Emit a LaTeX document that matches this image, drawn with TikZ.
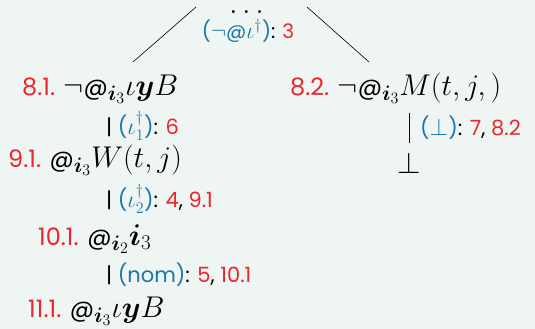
\RequirePackage{fix-cm}
\documentclass[tikz,border=0pt]{standalone}
\usepackage{amsmath}
\usepackage{fontspec}
\setmainfont{Poppins}
\usetikzlibrary{positioning}
\DeclareMathSizes{24}{30}{21}{16}
\DeclareMathSizes{21}{24}{16}{12}
\DeclareMathSizes{20}{23}{16}{12}
\definecolor{slidebg}{RGB}{238,245,242}
\definecolor{linered}{RGB}{235,38,48}
\definecolor{ruleblue}{RGB}{28,118,168}
\newcommand{\lnum}[1]{\textcolor{linered}{#1}}
\newcommand{\rname}[1]{\textcolor{ruleblue}{(#1)}}
\newcommand{\atsym}{\text{@}}

\begin{document}
\begin{tikzpicture}[x=1pt, y=-1pt,
    formula/.style={anchor=base west, inner sep=0pt, font=\fontsize{24}{28}\selectfont},
    rulelabel/.style={anchor=base west, inner sep=0pt, font=\fontsize{21}{24}\selectfont},
    branch/.style={draw=black, line width=0.6pt}
]
    \fill[slidebg] (0,0) rectangle (535,329);
    \useasboundingbox (0,0) rectangle (535,329);

    % split point
    \node[formula, anchor=base, text height=3pt, text depth=0pt] (root) at (249,14) {$\dots$};
    \node[rulelabel, anchor=base, font=\fontsize{20}{23}\selectfont] (rootrule) at (248,39) {\rname{$\neg\atsym\iota^{\dagger}$}: \lnum{3}};
    \coordinate (leftstart) at (196,7);
    \coordinate (leftend) at (133,62);
    \coordinate (rightstart) at (307,7);
    \coordinate (rightend) at (369,62);

    % left branch
    \node[formula] (f81) at (22,95) {\lnum{8.1.} $\neg\atsym_{\boldsymbol{i}_3}\iota\boldsymbol{y}B$};
    \node[rulelabel] (r81) at (106,134) {| \rname{$\iota_1^{\dagger}$}: \lnum{6}};
    \node[formula] (f91) at (8,167) {\lnum{9.1.} $\atsym_{\boldsymbol{i}_3}W(t,j)$};
    \node[rulelabel] (r91) at (106,207) {| \rname{$\iota_2^{\dagger}$}: \lnum{4}, \lnum{9.1}};
    \node[formula] (f101) at (38,245) {\lnum{10.1.} $\atsym_{\boldsymbol{i}_2}\boldsymbol{i}_3$};
    \node[rulelabel] (r101) at (106,282) {| \rname{nom}: \lnum{5}, \lnum{10.1}};
    \node[formula] (f111) at (28,317) {\lnum{11.1.} $\atsym_{\boldsymbol{i}_3}\iota\boldsymbol{y}B$};

    % right branch
    \node[formula] (f82) at (290,95) {\lnum{8.2.} $\neg\atsym_{\boldsymbol{i}_3}M(t,j,)$};
    \coordinate (closetop) at (409,113);
    \node[formula, anchor=base] (closed) at (409,173) {$\bot$};
    \node[rulelabel] (r82) at (420,135) {\rname{$\bot$}: \lnum{7}, \lnum{8.2}};

    % connectors
    \draw[branch] (leftstart) -- (leftend);
    \draw[branch] (rightstart) -- (rightend);
    \draw[branch, shorten >=9pt] (closetop) -- (closed.north);
\end{tikzpicture}
\end{document}
